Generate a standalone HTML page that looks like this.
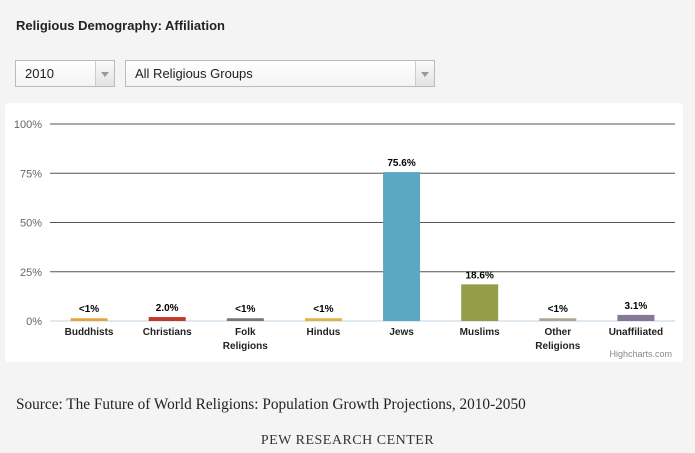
<!DOCTYPE html>
<html><head><meta charset="utf-8"><style>
body{margin:0;width:695px;height:453px;background:#f4f4f4;font-family:"Liberation Sans",sans-serif;position:relative;overflow:hidden}
.t{position:absolute;left:16px;top:18px;font-size:13px;font-weight:bold;color:#222}
.sel{position:absolute;top:60px;height:27px;background:linear-gradient(#fff,#f3f3f3);border:1px solid #bbb;box-sizing:border-box;font-size:13px;color:#222;line-height:25px;padding-left:9px}
.arr{position:absolute;right:0;top:0;width:18px;height:25px;border-left:1px solid #ccc;background:linear-gradient(#fafafa,#e3e3e3)}
.arr:after{content:"";position:absolute;left:5px;top:11px;border:4px solid transparent;border-top:5px solid #999}
.panel{position:absolute;left:5px;top:103px;width:678px;height:259px;background:#fff;border-radius:4px}
.src{position:absolute;left:16px;top:396px;font-family:"Liberation Serif",serif;font-size:15.3px;color:#222}
.pew{position:absolute;left:0;width:695px;text-align:center;top:433px;font-family:"Liberation Serif",serif;font-size:14px;color:#333;letter-spacing:.5px}
</style></head><body>
<div class="t">Religious Demography: Affiliation</div>
<div class="sel" style="left:15px;width:100px">2010<div class="arr"></div></div>
<div class="sel" style="left:125px;width:310px">All Religious Groups<div class="arr"></div></div>
<div class="panel"></div>
<svg id="c" width="695" height="453" style="position:absolute;left:0;top:0"></svg>
<div class="src">Source: The Future of World Religions: Population Growth Projections, 2010-2050</div>
<div class="pew">PEW RESEARCH CENTER</div>
<script>
const categories=[["Buddhists"],["Christians"],["Folk","Religions"],["Hindus"],["Jews"],["Muslims"],["Other","Religions"],["Unaffiliated"]];
const values=[1.4,2.0,1.4,1.4,75.6,18.6,1.4,3.1];
const labels=["<1%","2.0%","<1%","<1%","75.6%","18.6%","<1%","3.1%"];
const colors=["#e8a33a","#c0392b","#77777a","#e0b24a","#5ba8c2","#959d48","#b0a690","#857795"];
const ticks=[0,25,50,75,100];
const NS="http://www.w3.org/2000/svg",svg=document.getElementById("c");
const x0=50,x1=675,yb=321,yt=124;
const y=v=>yb-(yb-yt)*v/100;
const bw=(x1-x0)/categories.length;
function el(t,a,txt){const e=document.createElementNS(NS,t);for(const k in a)e.setAttribute(k,a[k]);if(txt!==undefined)e.textContent=txt;svg.appendChild(e);return e;}
ticks.forEach(t=>{
const l=el("line",{x1:x0,x2:x1,y1:y(t),y2:y(t),stroke:t?"#555":"#c0d0e0","stroke-width":1});


const tx=el("text",{x:42,y:y(t)+4,"text-anchor":"end","font-size":11,fill:"#666"},t+"%");


});
values.forEach((v,i)=>{
const cx=x0+bw*(i+0.5);
const r=el("rect",{x:cx-18.5,y:y(v),width:37,height:yb-y(v),fill:colors[i]});


const lb=el("text",{x:cx,y:y(v)-6,"text-anchor":"middle","font-size":10,"font-weight":"bold",fill:"#000"},labels[i]);


categories[i].forEach((w,j)=>{
const c=el("text",{x:cx,y:335+j*14,"text-anchor":"middle","font-size":10,"font-weight":"bold",fill:"#222"},w);


});
});
const hc=el("text",{x:672,y:357,"text-anchor":"end","font-size":9,fill:"#888"},"Highcharts.com");


</script>
</body></html>
